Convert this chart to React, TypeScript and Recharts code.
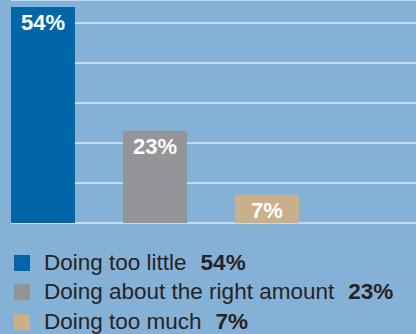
import { BarChart, Bar, XAxis, YAxis, CartesianGrid, Cell, LabelList, Legend } from "recharts";

const categories = ["Doing too little", "Doing about the right amount", "Doing too much"];
const shares = [54, 23, 7];
const barColors = ["#0066a8", "#939598", "#c9b089"];
const gridTicks = [0, 10, 20, 30, 40, 50];

const data = categories.map((name, i) => ({ name, value: shares[i] }));

const font = "'Liberation Sans', Arial, Helvetica, sans-serif";

function LegendBox() {
  return (
    <div style={{ fontFamily: font, fontSize: 22.5, color: "#262324" }}>
      {categories.map((name, i) => (
        <div key={name} style={{ display: "flex", alignItems: "center", height: 29.5 }}>
          <span
            style={{
              width: 16,
              height: 16,
              marginLeft: 14,
              marginRight: 14,
              background: barColors[i],
              display: "inline-block",
            }}
          />
          <span>{name}</span>
          <span style={{ fontWeight: "bold", marginLeft: 14 }}>{shares[i]}%</span>
        </div>
      ))}
    </div>
  );
}

export default function App() {
  return (
    <div style={{ width: 416, height: 334, background: "#86b1d7", position: "relative", overflow: "hidden" }}>
      <style>{"body{margin:0}"}</style>
      <BarChart
        width={416}
        height={334}
        data={data}
        margin={{ top: 0, right: 0, left: 11, bottom: 111 }}
      >
        <CartesianGrid vertical={false} stroke="#c5daee" strokeWidth={2} />
        <XAxis
          dataKey="name"
          height={0}
          tick={false}
          tickLine={false}
          axisLine={{ stroke: "#55677b", strokeWidth: 2 }}
          padding={{ left: -24, right: 93 }}
        />
        <YAxis hide domain={[0, 55.75]} ticks={gridTicks} />
        <Bar dataKey="value" barSize={64} isAnimationActive={false}>
          {data.map((d, i) => (
            <Cell key={d.name} fill={barColors[i]} />
          ))}
          <LabelList
            dataKey="value"
            position="insideTop"
            offset={7}
            formatter={(v: number) => `${v}%`}
            style={{ fill: "#ffffff", fontFamily: font, fontWeight: "bold", fontSize: 22 }}
          />
        </Bar>
        <Legend
          layout="vertical"
          align="center"
          verticalAlign="middle"
          wrapperStyle={{ top: 248, left: 0, width: 416 }}
          content={() => <LegendBox />}
        />
      </BarChart>
    </div>
  );
}
